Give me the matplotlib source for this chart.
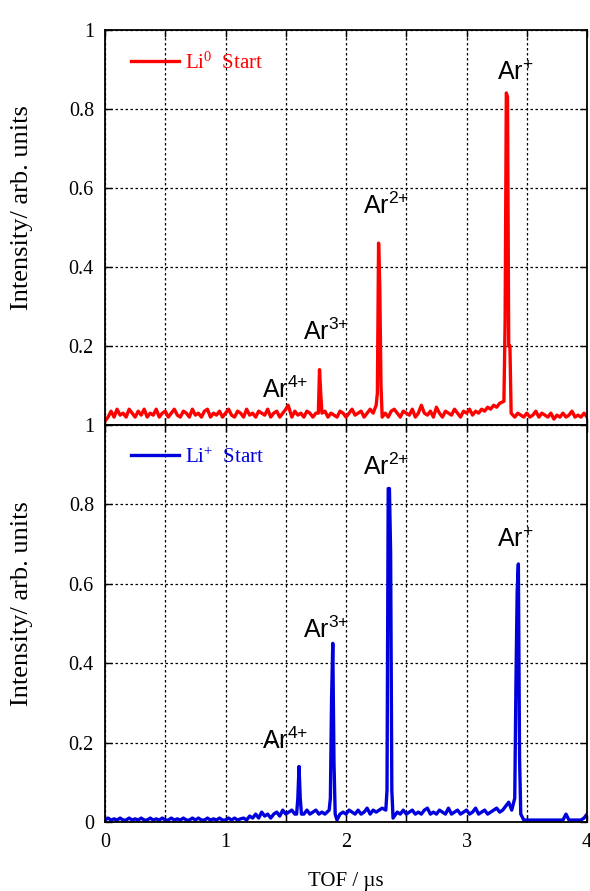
import numpy as np
import matplotlib
matplotlib.use("Agg")
import matplotlib.pyplot as plt

# %% Data
tof_grid = np.linspace(0, 4, 161)  # baseline sampling, step 0.025 us

li0_base = [0.01, 0.02, 0.035, 0.02, 0.04, 0.025, 0.03, 0.02, 0.04, 0.03,
            0.02, 0.035, 0.025, 0.04, 0.02, 0.03, 0.025, 0.04, 0.02, 0.03,
            0.035, 0.02, 0.03, 0.04, 0.025, 0.02, 0.035, 0.03, 0.02, 0.04,
            0.025, 0.03, 0.02, 0.035, 0.04, 0.02, 0.03, 0.025, 0.035, 0.02,
            0.03, 0.04, 0.025, 0.02, 0.035, 0.03, 0.02, 0.04, 0.025, 0.03,
            0.02, 0.035, 0.03, 0.025, 0.04, 0.02, 0.03, 0.035, 0.02, 0.03,
            0.04, 0.03, 0.02, 0.035, 0.025, 0.03, 0.02, 0.035, 0.03, 0.02,
            0.03, 0.025, 0.02, 0.035, 0.02, 0.03, 0.025, 0.02, 0.035, 0.03,
            0.02, 0.03, 0.04, 0.025, 0.03, 0.035, 0.02, 0.03, 0.04, 0.03,
            0.04, 0.03, 0.025, 0.03, 0.02, 0.035, 0.04, 0.03, 0.02, 0.035,
            0.03, 0.025, 0.04, 0.02, 0.03, 0.05, 0.03, 0.025, 0.035, 0.02,
            0.045, 0.03, 0.02, 0.035, 0.03, 0.025, 0.04, 0.03, 0.02, 0.035,
            0.03, 0.04, 0.025, 0.035, 0.03, 0.04, 0.035, 0.045, 0.04, 0.05,
            0.045, 0.055, 0.06, 0.05, 0.03, 0.025, 0.02, 0.03, 0.025, 0.02,
            0.03, 0.02, 0.025, 0.035, 0.02, 0.03, 0.025, 0.02, 0.03, 0.015,
            0.025, 0.02, 0.03, 0.02, 0.025, 0.035, 0.02, 0.025, 0.02, 0.03,
            0.02]
li0_peak_x = [1.52, 1.77, 1.78, 1.79, 1.80,
              2.25, 2.26, 2.27, 2.28, 2.29, 2.30,
              3.31, 3.32, 3.33, 3.34, 3.35, 3.36, 3.37]
li0_peak_y = [0.05, 0.03, 0.14, 0.08, 0.03,
              0.05, 0.08, 0.46, 0.35, 0.10, 0.02,
              0.06, 0.26, 0.84, 0.83, 0.20, 0.20, 0.03]

lip_base = [0.005, 0.01, 0.005, 0.008, 0.005, 0.01, 0.005, 0.005, 0.01, 0.005,
            0.008, 0.005, 0.01, 0.005, 0.005, 0.01, 0.005, 0.008, 0.005, 0.01,
            0.005, 0.005, 0.01, 0.005, 0.008, 0.005, 0.01, 0.005, 0.005, 0.01,
            0.005, 0.01, 0.005, 0.005, 0.01, 0.005, 0.008, 0.005, 0.01, 0.005,
            0.005, 0.01, 0.005, 0.01, 0.005, 0.008, 0.01, 0.005, 0.015, 0.01,
            0.02, 0.01, 0.025, 0.015, 0.02, 0.01, 0.02, 0.025, 0.015, 0.03,
            0.02, 0.025, 0.03, 0.02, 0.015, 0.025, 0.02, 0.03, 0.02, 0.025,
            0.03, 0.02, 0.025, 0.02, 0.03, 0.02, 0.005, 0.005, 0.02, 0.025,
            0.02, 0.03, 0.025, 0.02, 0.03, 0.02, 0.025, 0.035, 0.02, 0.03,
            0.025, 0.03, 0.035, 0.02, 0.01, 0.02, 0.03, 0.025, 0.02, 0.03,
            0.02, 0.025, 0.03, 0.02, 0.025, 0.02, 0.03, 0.035, 0.02, 0.025,
            0.02, 0.03, 0.025, 0.02, 0.035, 0.02, 0.025, 0.03, 0.02, 0.025,
            0.03, 0.02, 0.025, 0.035, 0.02, 0.025, 0.03, 0.02, 0.025, 0.03,
            0.035, 0.025, 0.03, 0.04, 0.05, 0.03, 0.02, 0.03, 0.005, 0.005,
            0.005, 0.005, 0.005, 0.005, 0.005, 0.005, 0.005, 0.005, 0.005, 0.005,
            0.005, 0.005, 0.005, 0.02, 0.005, 0.005, 0.005, 0.005, 0.005, 0.01,
            0.02]
lip_peak_x = [1.59, 1.60, 1.61, 1.62, 1.63,
              1.86, 1.87, 1.88, 1.89, 1.90, 1.91,
              2.33, 2.34, 2.35, 2.36, 2.37, 2.38, 2.39,
              3.40, 3.41, 3.42, 3.43, 3.44, 3.45]
lip_peak_y = [0.02, 0.06, 0.14, 0.06, 0.02,
              0.03, 0.06, 0.31, 0.45, 0.15, 0.02,
              0.03, 0.08, 0.84, 0.84, 0.68, 0.08, 0.01,
              0.06, 0.35, 0.58, 0.65, 0.16, 0.02]

# peak labels: text, x, y
labels_top = [(r'Ar$\mathregular{^{4{+}}}$', 1.30, 0.09),
              (r'Ar$\mathregular{^{3{+}}}$', 1.64, 0.235),
              (r'Ar$\mathregular{^{2{+}}}$', 2.14, 0.555),
              (r'Ar$\mathregular{^{+}}$', 3.25, 0.89)]
labels_bot = [(r'Ar$\mathregular{^{4{+}}}$', 1.30, 0.205),
              (r'Ar$\mathregular{^{3{+}}}$', 1.64, 0.485),
              (r'Ar$\mathregular{^{2{+}}}$', 2.14, 0.895),
              (r'Ar$\mathregular{^{+}}$', 3.25, 0.71)]


def merge(base, px, py):
    # drop baseline samples lying inside a peak, then sort everything by TOF
    px = np.asarray(px)
    keep = np.array([np.min(np.abs(px - t)) > 0.012 for t in tof_grid])
    x = np.concatenate([tof_grid[keep], px])
    y = np.concatenate([np.asarray(base)[keep], py])
    order = np.argsort(x, kind='stable')
    return x[order], y[order]


#%% Plot
plt.rcParams['font.family'] = 'Liberation Serif'
plt.rcParams['font.size'] = 12

fig = plt.figure(figsize=(5.9, 8.91), dpi=100)
ax1 = fig.add_axes([0.178, 0.523, 0.817, 0.4437])
ax2 = fig.add_axes([0.178, 0.0774, 0.817, 0.4456])

panels = [(ax1, li0_base, li0_peak_x, li0_peak_y, 'red', r'Li$\mathregular{^{0}}$  Start', labels_top),
          (ax2, lip_base, lip_peak_x, lip_peak_y, '#0000dd', r'Li$\mathregular{^{+}}$  Start', labels_bot)]

for ax, base, px, py, col, name, labs in panels:
    x, y = merge(base, px, py)
    ax.plot(x, y, color=col, lw=2.4, label=name)
    ax.set_xlim(0, 4)
    ax.set_ylim(0, 1)
    ax.set_xticks(np.arange(0, 4.01, 0.5))
    ax.set_yticks(np.arange(0, 1.01, 0.2))
    ax.grid(True, color='black', linestyle=(0, (2, 2)), linewidth=0.9)
    ax.tick_params(direction='in', length=5, width=1, top=True, right=True,
                   labelsize=14.5, pad=8)
    for s in ax.spines.values():
        s.set_linewidth(1.3)
    ax.set_ylabel('Intensity/ arb. units', fontsize=19)
    ax.yaxis.set_label_coords(-0.149, 0.55)
    leg = ax.legend(loc='upper left', frameon=False, handlelength=2.3, handletextpad=0.3,
                    fontsize=15, borderaxespad=0.4, bbox_to_anchor=(0.02, 0.985))
    for t in leg.get_texts():
        t.set_color(col)
    for txt, lx, ly in labs:
        ax.text(lx, ly, txt, fontsize=18, family='Liberation Sans', va='center')

ax1.set_yticklabels(['', '0.2', '0.4', '0.6', '0.8', '1'])
ax2.set_yticklabels(['0', '0.2', '0.4', '0.6', '0.8', '1'])
ax1.set_xticklabels([])
ax2.set_xticklabels(['0', '', '1', '', '2', '', '3', '', '4'])
ax2.set_xlabel('TOF / µs', fontsize=15, labelpad=14)

fig.savefig('out.png', dpi=100)
